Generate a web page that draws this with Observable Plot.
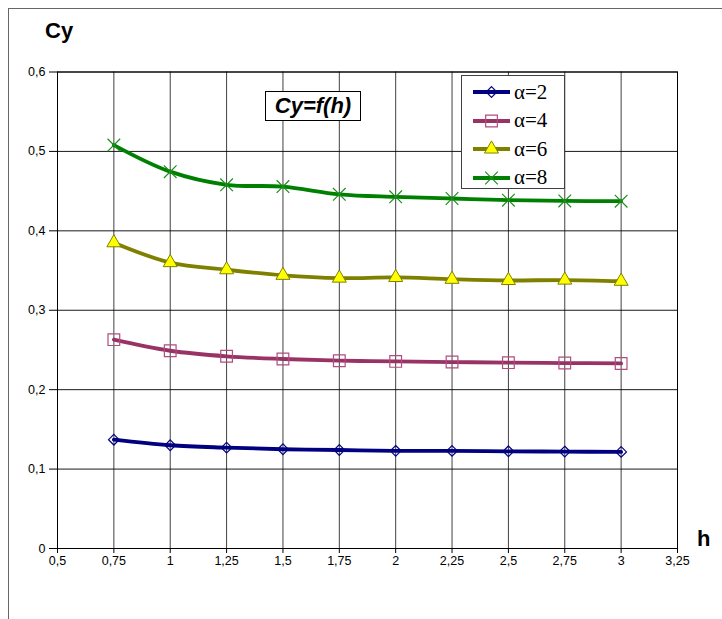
<!DOCTYPE html>
<html>
<head>
<meta charset="utf-8">
<script src="https://cdn.jsdelivr.net/npm/d3@7"></script>
<script src="https://cdn.jsdelivr.net/npm/@observablehq/plot@0.6"></script>
<style>
  body { margin: 0; background: white; }
  #wrap { position: relative; width: 722px; height: 619px; overflow: hidden; background: white; font-family: Arial, "Liberation Sans", sans-serif; }
  .border { position: absolute; left: 8px; top: 8px; width: 900px; height: 900px; border-left: 1px solid #666; border-top: 1px solid #666; pointer-events: none; }
  .axlab { position: absolute; font-weight: bold; font-size: 22px; font-family: Arial, "Liberation Sans", sans-serif; line-height: 1; }
  .titlebox { position: absolute; left: 265px; top: 91px; width: 94px; height: 28px; border: 1px solid #000; background: white; text-align: center; font-style: italic; font-weight: bold; font-size: 22px; font-family: Arial, "Liberation Sans", sans-serif; line-height: 28px; }
  .legend { position: absolute; left: 461px; top: 75px; width: 102px; height: 112px; border: 1px solid #404040; background: white; }
  .legrow { position: absolute; left: 10px; height: 28px; display: flex; align-items: center; }
</style>
</head>
<body>
<div id="wrap"></div>
<script>
const h = [0.75, 1, 1.25, 1.5, 1.75, 2, 2.25, 2.5, 2.75, 3];
const cyA2 = [0.137, 0.130, 0.127, 0.125, 0.124, 0.123, 0.1229, 0.1224, 0.122, 0.1216];
const cyA4 = [0.263, 0.249, 0.242, 0.2386, 0.2365, 0.2356, 0.2348, 0.234, 0.2335, 0.233];
const cyA6 = [0.385, 0.360, 0.351, 0.344, 0.3405, 0.3413, 0.339, 0.3375, 0.338, 0.3365];
const cyA8 = [0.508, 0.4745, 0.458, 0.4557, 0.446, 0.4428, 0.4407, 0.4386, 0.4377, 0.4373];
const seriesNames = ["α=2", "α=4", "α=6", "α=8"];
const xTicks = [0.5, 0.75, 1, 1.25, 1.5, 1.75, 2, 2.25, 2.5, 2.75, 3, 3.25];
const yTicks = [0, 0.1, 0.2, 0.3, 0.4, 0.5, 0.6];

const fmt = d => String(+d.toFixed(2)).replace(".", ",");
const rows = vals => h.map((x, i) => ({h: x, cy: vals[i]}));

const styles = [
  {vals: cyA2, line: "#000080", symbol: "diamond2", r: 4.8, fill: "none", stroke: "#000080", sw: 1.2},
  {vals: cyA4, line: "#993366", symbol: "square", r: 6.6, fill: "none", stroke: "#b04d80", sw: 1.2},
  {vals: cyA6, line: "#808000", symbol: "triangle", r: 5.2, fill: "#ffff00", stroke: "#808000", sw: 1},
  {vals: cyA8, line: "#008000", symbol: "times", r: 5.8, fill: "none", stroke: "#1a8f1a", sw: 1.2}
];

const marks = [
  Plot.gridX(xTicks, {stroke: "#000", strokeOpacity: 0.75}),
  Plot.gridY(yTicks, {stroke: "#000", strokeOpacity: 0.9}),
  Plot.frame({stroke: "#000"}),
  Plot.axisX({ticks: xTicks, tickFormat: fmt, tickSize: 5, tickPadding: 3, fontSize: 12, label: null}),
  Plot.axisY({ticks: yTicks, tickFormat: fmt, tickSize: 8, tickPadding: 4, fontSize: 12, label: null})
];
for (const s of styles) {
  marks.push(Plot.line(rows(s.vals), {x: "h", y: "cy", curve: "catmull-rom", stroke: s.line, strokeWidth: 3.8}));
}
for (const s of styles) {
  marks.push(Plot.dot(rows(s.vals), {x: "h", y: "cy", symbol: s.symbol, r: s.r, fill: s.fill, stroke: s.stroke, strokeWidth: s.sw}));
}

const chart = Plot.plot({
  width: 722,
  height: 619,
  marginLeft: 57,
  marginRight: 45,
  marginTop: 71.5,
  marginBottom: 71,
  style: {fontFamily: "Arial, 'Liberation Sans', sans-serif", fontSize: "12px", color: "#000", background: "transparent"},
  x: {domain: [0.5, 3.25]},
  y: {domain: [0, 0.6]},
  marks
});
chart.style.position = "absolute";
chart.style.left = "0px";
chart.style.top = "0px";
d3.select(chart).selectAll("text")
  .attr("font-size", 12.5)
  .style("font-size", "12.5px")
  .style("font-family", "Arial, 'Liberation Sans', sans-serif")
  .style("fill", "#000");

const wrap = document.getElementById("wrap");
wrap.appendChild(chart);

const border = document.createElement("div");
border.className = "border";
wrap.appendChild(border);

const cy = document.createElement("div");
cy.className = "axlab";
cy.style.left = "45px"; cy.style.top = "20px";
cy.textContent = "Cy";
wrap.appendChild(cy);

const hl = document.createElement("div");
hl.className = "axlab";
hl.style.left = "697px"; hl.style.top = "528px";
hl.textContent = "h";
wrap.appendChild(hl);

const tb = document.createElement("div");
tb.className = "titlebox";
tb.textContent = "Cy=f(h)";
wrap.appendChild(tb);

const leg = document.createElement("div");
leg.className = "legend";
wrap.appendChild(leg);
const ns = "http://www.w3.org/2000/svg";
styles.forEach((s, i) => {
  const row = document.createElement("div");
  row.className = "legrow";
  row.style.top = (2 + i * 28.5) + "px";
  const sv = document.createElementNS(ns, "svg");
  sv.setAttribute("width", 40); sv.setAttribute("height", 20);
  sv.style.marginRight = "2px";
  const ln = document.createElementNS(ns, "line");
  ln.setAttribute("x1", 1); ln.setAttribute("x2", 38); ln.setAttribute("y1", 10); ln.setAttribute("y2", 10);
  ln.setAttribute("stroke", s.line); ln.setAttribute("stroke-width", 3.8);
  sv.appendChild(ln);
  const p = document.createElementNS(ns, "path");
  const symMap = {diamond2: d3.symbolDiamond2, square: d3.symbolSquare, triangle: d3.symbolTriangle, times: d3.symbolTimes};
  p.setAttribute("d", d3.symbol(symMap[s.symbol], s.r * s.r * Math.PI)());
  p.setAttribute("transform", "translate(19.5,10)");
  p.setAttribute("fill", s.fill); p.setAttribute("stroke", s.stroke); p.setAttribute("stroke-width", s.sw);
  sv.appendChild(p);
  row.appendChild(sv);
  const t = document.createElement("span");
  t.style.fontFamily = "'Liberation Serif', 'DejaVu Serif', 'Times New Roman', serif";
  t.style.fontSize = "21px";
  t.textContent = seriesNames[i];
  row.appendChild(t);
  leg.appendChild(row);
});
</script>
</body>
</html>
